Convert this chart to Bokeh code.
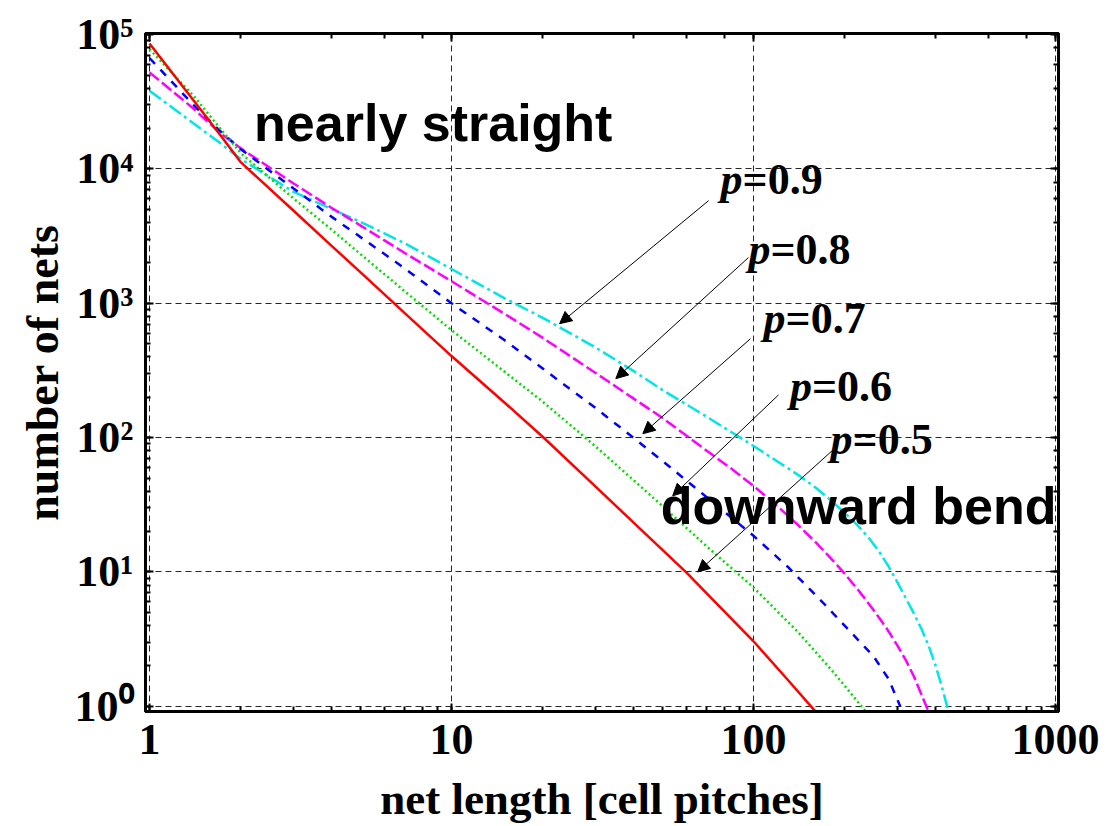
from bokeh.plotting import figure
from bokeh.models import (Range1d, LogAxis, Arrow, NormalHead, ColumnDataSource, Label,
                          CustomJSTickFormatter)
from bokeh.core.properties import value
from bokeh.embed import file_html
from bokeh.resources import INLINE

# ---------------- data ----------------
x_p05 = [1, 1.4, 1.7, 2, 3, 4, 5, 7, 10, 15, 20, 30, 40, 60, 80, 100, 130, 160]
y_p05 = [86000, 32300, 18400, 11300, 4890, 2690, 1700, 845, 405, 182, 102, 43.2, 23.4, 9.9, 5.1, 3.05, 1.57, 0.92]

x_p06 = [1, 1.4, 1.7, 2, 3, 4, 5, 7, 10, 15, 20, 30, 40, 50, 70, 100, 140, 180, 235]
y_p06 = [78000, 35000, 20500, 13200, 6030, 3550, 2320, 1230, 631, 309, 186, 86, 48.4, 30.9, 15.5, 7.67, 3.59, 1.9, 0.92]

x_p07 = [1, 1.4, 1.7, 2, 3, 4, 5, 7, 10, 15, 20, 30, 40, 50, 70, 100, 130, 170, 200, 250, 280, 306]
y_p07 = [67000, 29900, 19500, 14100, 7160, 4420, 3110, 1820, 1000, 531, 328, 166, 100, 67, 36, 18.6, 10.9, 5.9, 4.0, 2.35, 1.6, 1.0]

x_p08 = [1, 1.4, 1.7, 2, 3, 4, 5, 7, 10, 15, 20, 30, 40, 50, 70, 85, 100, 120, 140, 160,
         180, 200, 225, 250, 275, 300, 320, 340, 360, 380]
y_p08 = [52400, 28100, 18800, 14300, 7800, 5150, 3790, 2370, 1460, 834, 555, 303, 196, 140, 80, 58.1, 43.7, 30.9, 22.5, 16.8,
         12.7, 9.77, 7.08, 5.19, 3.85, 2.82, 2.19, 1.66, 1.22, 0.91]

x_p09 = [1, 1.4, 1.7, 2, 3, 4, 5, 7, 10, 15, 20, 30, 40, 50, 70, 100, 120, 140, 160, 180,
         200, 220, 240, 260, 280, 300, 320, 340, 360, 380, 400, 420, 442]
y_p09 = [38300, 21800, 15800, 11900, 6760, 5050, 4040, 2800, 1800, 1090, 782, 469, 314, 226, 143, 86.7, 66.5, 53.1, 42.7, 34.3,
         27.7, 22.5, 18.1, 14.3, 11.0, 8.34, 6.32, 4.9, 3.76, 2.82, 2.04, 1.41, 0.92]

# callout labels "p=..." and their arrows (data coordinates)
p_values = ["=0.9", "=0.8", "=0.7", "=0.6", "=0.5"]
label_x = [77.8, 96.2, 108, 132, 180]
label_y = [8330, 2510, 768, 239, 96.5]
arrow_x_start = [71.0, 96.2, 97.7, 121, 182]
arrow_y_start = [5810, 2190, 545, 208, 79.8]
arrow_x_end = [22.8, 35.0, 43.0, 54.0, 65.3]
arrow_y_end = [705, 275, 107, 36.9, 10.0]

x_tick_values = [1, 10, 100, 1000]
x_tick_labels = ["1", "10", "100", "1000"]
y_tick_values = [1, 10, 100, 1000, 10000, 100000]
y_tick_labels = ["10\u2070", "10\u00b9", "10\u00b2", "10\u00b3", "10\u2074", "10\u2075"]

SERIF = "Liberation Serif"
SANS = "Liberation Sans"

LOOKUP = """
for (let k = 0; k < vals.length; k++) {
  if (Math.abs(Math.log10(tick) - Math.log10(vals[k])) < 1e-6) return labs[k];
}
return "";
"""

p = figure(width=1118, height=826, x_axis_type="log", y_axis_type="log",
           x_range=Range1d(0.97, 1023), y_range=Range1d(0.915, 1.02e5),
           output_backend="svg", toolbar_location=None,
           min_border_left=145, min_border_right=60, min_border_top=33, min_border_bottom=115)
p.background_fill_color = "white"
p.border_fill_color = "white"
p.outline_line_color = "black"
p.outline_line_width = 3

# extra axes for inward ticks on top and right (no labels)
p.add_layout(LogAxis(formatter=CustomJSTickFormatter(code="return '';")), "right")
p.add_layout(LogAxis(formatter=CustomJSTickFormatter(code="return '';")), "above")

for ax in p.axis:
    ax.axis_line_width = 3
    ax.axis_line_color = "black"
    ax.major_tick_in = 8
    ax.major_tick_out = 0
    ax.minor_tick_in = 5
    ax.minor_tick_out = 0
    ax.major_tick_line_width = 2
    ax.minor_tick_line_width = 2
    ax.major_label_text_font = SERIF
    ax.major_label_text_font_style = "bold"
    ax.major_label_text_font_size = "44px"
    ax.major_label_text_color = "black"

p.right[0].major_label_standoff = 0
p.above[0].major_label_standoff = 0

p.below[0].formatter = CustomJSTickFormatter(args=dict(vals=x_tick_values, labs=x_tick_labels), code=LOOKUP)
p.left[0].formatter = CustomJSTickFormatter(args=dict(vals=y_tick_values, labs=y_tick_labels), code=LOOKUP)
p.below[0].major_label_standoff = 13
p.left[0].major_label_standoff = 12

p.below[0].axis_label = "net length [cell pitches]"
p.left[0].axis_label = "number of nets"
for ax in (p.below[0], p.left[0]):
    ax.axis_label_text_font = SERIF
    ax.axis_label_text_font_style = "bold"
    ax.axis_label_text_color = "black"
p.below[0].axis_label_text_font_size = "45px"
p.below[0].axis_label_standoff = 17
p.left[0].axis_label_text_font_size = "46px"
p.left[0].axis_label_standoff = 4

for g in (p.xgrid[0], p.ygrid[0]):
    g.grid_line_color = "black"
    g.grid_line_width = 1
    g.grid_line_dash = "6 4"
    g.grid_line_alpha = 0.85

# curves
p.line(x_p09, y_p09, line_color="#00e6e6", line_width=2.5, line_dash="14 4 3 4")
p.line(x_p08, y_p08, line_color="#ff00ff", line_width=2.5, line_dash="12 4")
p.line(x_p07, y_p07, line_color="#0000ff", line_width=2.5, line_dash="8 8")
p.line(x_p06, y_p06, line_color="#00dd00", line_width=2.5, line_dash="2 3")
p.line(x_p05, y_p05, line_color="#ff0000", line_width=2.5)

# arrows
arrow_src = ColumnDataSource(dict(xs=arrow_x_start, ys=arrow_y_start, xe=arrow_x_end, ye=arrow_y_end))
p.add_layout(Arrow(end=NormalHead(size=12, fill_color="black", line_color="black", line_width=1),
                   x_start="xs", y_start="ys", x_end="xe", y_end="ye",
                   source=arrow_src, line_color="black", line_width=1))

# p labels
lab_src = ColumnDataSource(dict(x=label_x, y=label_y, t=p_values, p=["p"] * len(p_values)))
p.text(x="x", y="y", text="p", source=lab_src, text_font=value(SERIF),
       text_font_style="bold italic", text_font_size="44px", text_baseline="alphabetic",
       text_align="left", text_color="black")
p.text(x="x", y="y", text="t", source=lab_src, text_font=value(SERIF),
       text_font_style="bold", text_font_size="44px", text_baseline="alphabetic",
       text_align="left", text_color="black", x_offset=22)

# big annotations
p.add_layout(Label(x=2.22, y=22100, text="nearly straight", text_font=SANS,
                   text_font_style="bold", text_font_size="52px", text_baseline="alphabetic",
                   text_color="black"))
p.add_layout(Label(x=49.3, y=31.1, text="downward bend", text_font=SANS,
                   text_font_style="bold", text_font_size="52px", text_baseline="alphabetic",
                   text_color="black"))

open("out.html", "w").write(file_html(p, INLINE))
